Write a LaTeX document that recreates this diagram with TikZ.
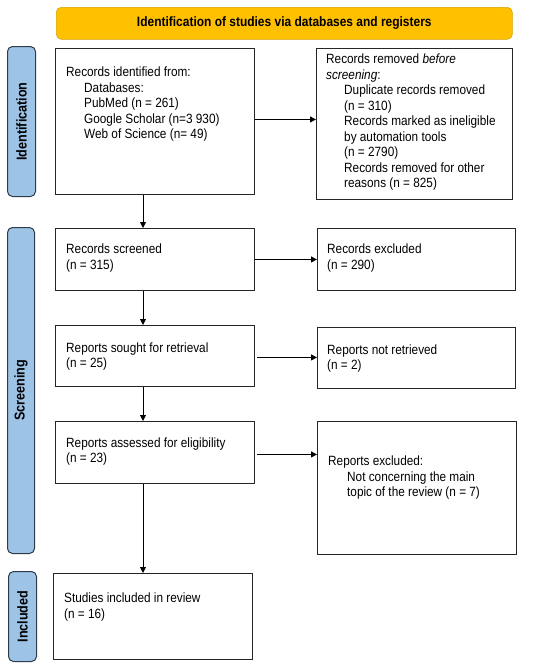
\documentclass[tikz,border=0pt]{standalone}
\usepackage{fontspec}
\setmainfont[FakeStretch=0.88]{Liberation Sans}
\usetikzlibrary{arrows.meta}
\definecolor{bannery}{HTML}{FFC000}
\definecolor{bannerline}{HTML}{D9A300}
\definecolor{sideblue}{HTML}{9DC3E6}
\definecolor{sideline}{HTML}{2E3B4A}
\begin{document}
\begin{tikzpicture}[x=1pt,y=-1pt,
  box/.style={draw=black!85, line width=0.9pt, anchor=north west, inner sep=0pt},
  txt/.style={anchor=west, inner sep=0pt, align=left, font=\fontsize{13.4}{15.5}\selectfont},
  side/.style={draw=sideline, fill=sideblue, rounded corners=5pt, line width=1pt, anchor=north west, inner sep=0pt},
  sidetxt/.style={rotate=90, inner sep=0pt, font=\fontsize{14.3}{15}\selectfont\bfseries},
  banner/.style={draw=bannerline, fill=bannery, rounded corners=5pt, line width=0.6pt, anchor=north west, inner sep=0pt, font=\fontsize{13.6}{15}\selectfont\bfseries},
  arr/.style={-{Triangle[length=6pt,width=6pt]}, line width=0.9pt}]
\useasboundingbox (0,0) rectangle (550,670);
\coordinate (ax) at (143,0);

% banner
\node[banner, minimum width=456pt, minimum height=32pt] (ban) at (56,7) {Identification of studies via databases and registers};

% side labels
\node[side, minimum width=28pt, minimum height=150pt] (sid) at (7,46) {};
\node[sidetxt] (sidt) at (sid.center) {Identification};
\node[side, minimum width=27pt, minimum height=326pt] (sscr) at (7,227) {};
\node[sidetxt] (sscrt) at (sscr.center) {Screening};
\node[side, minimum width=28pt, minimum height=90pt] (sinc) at (8,571) {};
\node[sidetxt] (sinct) at (sinc.center) {Included};

% boxes
\node[box, minimum width=199pt, minimum height=146pt] (b1) at (55,48) {};
\node[box, minimum width=196pt, minimum height=151pt] (rem) at (316,48) {};
\node[box, minimum width=199pt, minimum height=62pt] (scr) at (55,228) {};
\node[box, minimum width=198pt, minimum height=62pt] (exc) at (317,228) {};
\node[box, minimum width=199pt, minimum height=61pt] (sou) at (55,325) {};
\node[box, minimum width=198pt, minimum height=61pt] (nrt) at (317,327) {};
\node[box, minimum width=199pt, minimum height=62pt] (ass) at (55,421) {};
\node[box, minimum width=199pt, minimum height=133pt] (rex) at (317,421) {};
\node[box, minimum width=199pt, minimum height=86pt] (inc) at (53,573) {};

% texts
\node[txt] (t1) at (66,104.5) {Records identified from:\\
\hspace*{18pt}Databases:\\
\hspace*{18pt}PubMed (n = 261)\\
\hspace*{18pt}Google Scholar (n=3 930)\\
\hspace*{18pt}Web of Science (n= 49)};
\node[txt] (trem) at (326,122.5) {Records removed \textit{before}\\
\textit{screening}:\\
\hspace*{18pt}Duplicate records removed\\
\hspace*{18pt}(n = 310)\\
\hspace*{18pt}Records marked as ineligible\\
\hspace*{18pt}by automation tools\\
\hspace*{18pt}(n = 2790)\\
\hspace*{18pt}Records removed for other\\
\hspace*{18pt}reasons (n = 825)};
\node[txt] (tscr) at (66,258) {Records screened\\(n = 315)};
\node[txt] (texc) at (327,258) {Records excluded\\(n = 290)};
\node[txt] (tsou) at (66,356.5) {Reports sought for retrieval\\(n = 25)};
\node[txt] (tnrt) at (327,358.5) {Reports not retrieved\\(n = 2)};
\node[txt] (tass) at (66,451.5) {Reports assessed for eligibility\\(n = 23)};
\node[txt] (trex) at (328,478) {Reports excluded:\\
\hspace*{19pt}Not concerning the main\\
\hspace*{19pt}topic of the review (n = 7)};
\node[txt] (tinc) at (64,607) {Studies included in review\\(n = 16)};

% arrows
\draw[arr] (b1.south -| ax) -- (scr.north -| ax);
\draw[arr] (scr.south -| ax) -- (sou.north -| ax);
\draw[arr] (sou.south -| ax) -- (ass.north -| ax);
\draw[arr] (ass.south -| ax) -- (inc.north -| ax);
\draw[arr] ([yshift=2pt]b1.east) -- ([yshift=2pt]b1.east -| rem.west);
\draw[arr] (scr.east) -- (scr.east -| exc.west);
\draw[arr] ([xshift=2pt,yshift=-1.5pt]sou.east) -- ([yshift=-1.5pt]sou.east -| nrt.west);
\draw[arr] ([xshift=2pt,yshift=-2pt]ass.east) -- ([yshift=-2pt]ass.east -| rex.west);
\end{tikzpicture}
\end{document}
